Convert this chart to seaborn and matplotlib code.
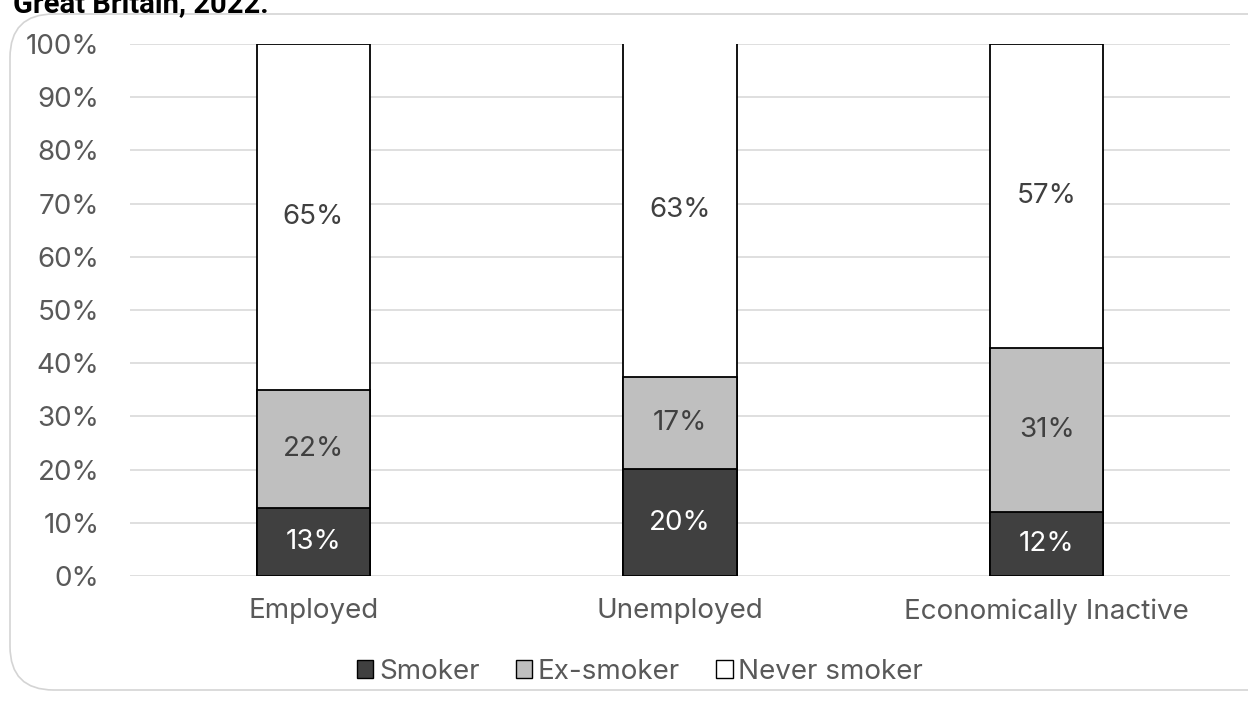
import matplotlib
matplotlib.use("Agg")
import matplotlib.pyplot as plt
import seaborn as sns
import pandas as pd
import numpy as np
from matplotlib.patches import FancyBboxPatch, Patch

categories = ["Employed", "Unemployed", "Economically Inactive"]
smoker = [12.7, 20.1, 12.0]
ex_smoker = [22.2, 17.4, 30.8]
never_smoker = [65.1, 62.6, 57.2]
series_names = ["Smoker", "Ex-smoker", "Never smoker"]
colors = ["#404040", "#bfbfbf", "#ffffff"]

sns.set_theme(style="white")
plt.rcParams["font.family"] = ["Inter", "DejaVu Sans"]

fig = plt.figure(figsize=(12.48, 7.04), dpi=100)
ax = fig.add_axes([130/1248, 1 - 576/704, 1100/1248, (576-44)/704])

# rounded border
border = FancyBboxPatch((10/1248, 1 - 690/704), 1.2, (690-14)/704,
                        boxstyle="round,pad=0,rounding_size=0.035",
                        transform=fig.transFigure, facecolor="none",
                        edgecolor="#d4d4d4", linewidth=1.2,
                        mutation_aspect=1248/704)
fig.patches.append(border)

fig.text(13/1248, 1 - 12/704, "Great Britain, 2022.", fontsize=21, fontweight="bold",
         color="black", ha="left", va="baseline", family=["Roboto", "DejaVu Sans"])

df = pd.DataFrame({"cat": categories,
                   "s": smoker,
                   "e": np.array(smoker) + np.array(ex_smoker),
                   "n": np.array(smoker) + np.array(ex_smoker) + np.array(never_smoker)})

for col, c in zip(["n", "e", "s"], colors[::-1]):
    sns.barplot(data=df, x="cat", y=col, color=c, edgecolor="black", linewidth=1.3,
                width=0.31, saturation=1, ax=ax, zorder=3)

ax.set_ylim(0, 100)
ax.set_xlim(-0.5, 2.5)
ax.set_yticks(range(0, 101, 10))
ax.set_yticklabels([f"{v}%" for v in range(0, 101, 10)])
ax.grid(axis="y", color="#d9d9d9", linewidth=1.2, zorder=0)
ax.set_axisbelow(True)
for s in ax.spines.values():
    s.set_visible(False)
ax.set_xlabel("")
ax.set_ylabel("")
ax.tick_params(axis="both", colors="#595959", labelsize=20, length=0)
ax.tick_params(axis="y", pad=22)
ax.tick_params(axis="x", pad=16)

bottoms = np.zeros(3)
for vals, tc in zip([smoker, ex_smoker, never_smoker], ["white", "#404040", "#404040"]):
    for i, v in enumerate(vals):
        ax.text(i, bottoms[i] + v / 2, f"{round(v)}%", ha="center", va="center",
                color=tc, fontsize=20, zorder=5)
    bottoms += np.array(vals)

handles = [Patch(facecolor=c, edgecolor="black", linewidth=1.0) for c in colors]
fig.legend(handles, series_names, loc="center", bbox_to_anchor=(640/1248, 1 - 672/704),
           ncol=3, frameon=False, fontsize=20, labelcolor="#595959",
           handlelength=0.6, handleheight=0.6, handletextpad=0.2, columnspacing=1.3)

fig.savefig("out.png", dpi=100)
